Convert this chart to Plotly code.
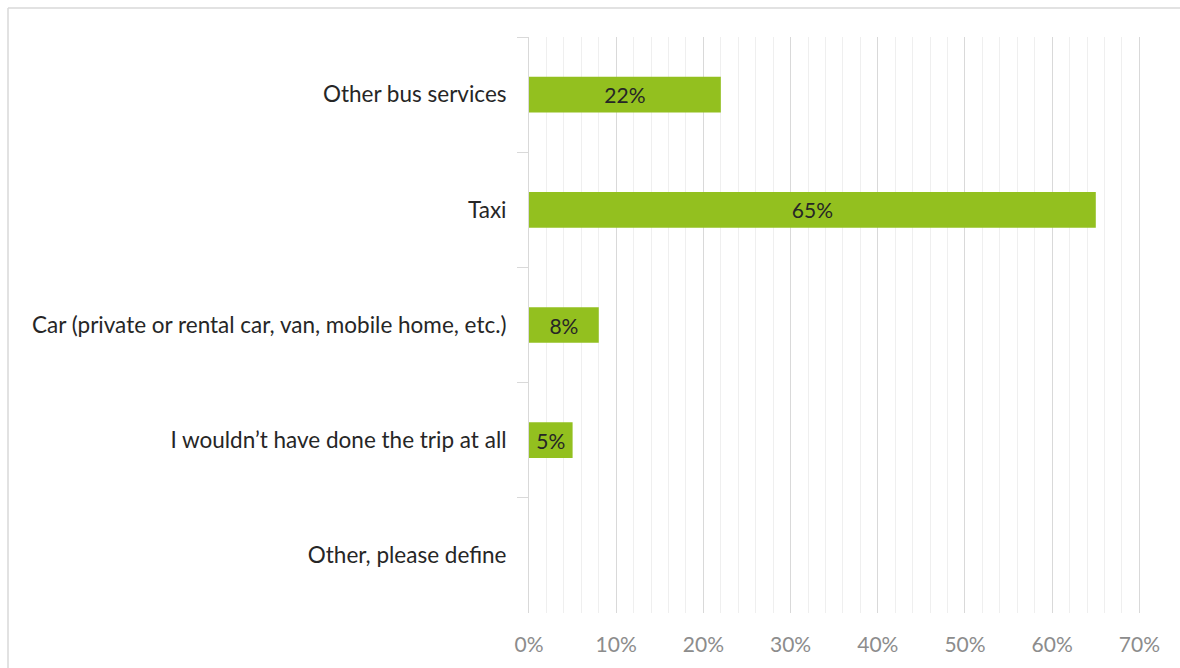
import plotly.graph_objects as go

# Survey answers and their shares (percent)
categories = [
    "Other bus services",
    "Taxi",
    "Car (private or rental car, van, mobile home, etc.)",
    "I wouldn\u2019t have done the trip at all",
    "Other, please define",
]
shares = [22, 65, 8, 5, 0]
x_ticks = [0, 10, 20, 30, 40, 50, 60, 70]

labels = [f"{v}%" if v > 0 else "" for v in shares]

FONT = "Lato, sans-serif"

fig = go.Figure(
    go.Bar(
        y=categories,
        x=shares,
        orientation="h",
        marker=dict(color="#93c01f", line=dict(width=0)),
        text=labels,
        textposition="inside",
        insidetextanchor="middle",
        textfont=dict(family=FONT, size=21, color="#262626"),
        cliponaxis=False,
    )
)

# plot area spans x = 529..1142 px, y = 37..613 px
L, R, T, B = 529, 38, 37, 55
PW, PH = 1180 - L - R, 668 - T - B

fig.update_layout(
    width=1180,
    height=668,
    margin=dict(l=L, r=R, t=T, b=B, autoexpand=False),
    paper_bgcolor="white",
    plot_bgcolor="white",
    showlegend=False,
    bargap=0.69,
    font=dict(family=FONT),
    xaxis=dict(
        range=[0, 70.3],
        tickvals=x_ticks,
        ticktext=[f"{t}%" for t in x_ticks],
        showgrid=True,
        gridcolor="#d9d9d9",
        gridwidth=1,
        minor=dict(dtick=2, showgrid=True, gridcolor="#efefef", gridwidth=1),
        zeroline=False,
        showline=False,
        ticks="",
        tickfont=dict(family=FONT, size=21, color="#8c8c8c"),
        ticklabelstandoff=17,
    ),
    yaxis=dict(
        autorange="reversed",
        showgrid=False,
        showline=True,
        linecolor="#d9d9d9",
        linewidth=1,
        ticks="outside",
        tickson="boundaries",
        ticklen=11,
        tickcolor="#d9d9d9",
        tickfont=dict(family=FONT, size=22.5, color="#262626"),
        ticklabelstandoff=17,
    ),
    shapes=[
        # light frame around the chart area (top and left edges)
        dict(type="line", xref="paper", yref="paper",
             x0=(8 - L) / PW, x1=(1190 - L) / PW,
             y0=(668 - B - 8) / PH, y1=(668 - B - 8) / PH,
             line=dict(color="#d9d9d9", width=1.5)),
        dict(type="line", xref="paper", yref="paper",
             x0=(8 - L) / PW, x1=(8 - L) / PW,
             y0=(668 - B - 8) / PH, y1=-(B + 10) / PH,
             line=dict(color="#d9d9d9", width=1.5)),
    ],
)

fig.write_html("out.html")
